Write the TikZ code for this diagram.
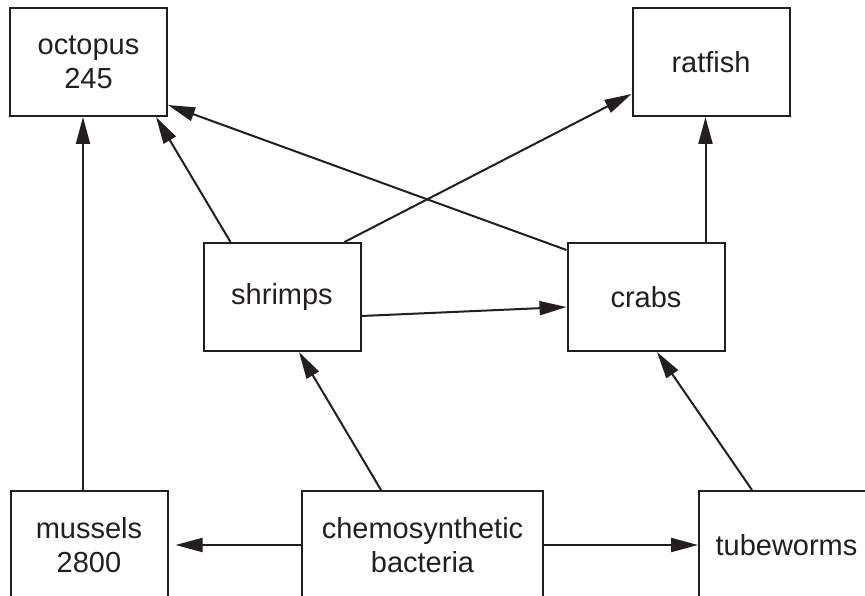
\documentclass[tikz,border=0pt]{standalone}
\usepackage{fontspec}
\setmainfont{Liberation Sans}
\usetikzlibrary{arrows.meta}
\definecolor{ink}{HTML}{231F20}
\begin{document}
\begin{tikzpicture}[x=1pt,y=-1pt,
  box/.style={draw=ink, line width=2pt, minimum width=157pt, minimum height=108pt,
    inner sep=0pt, align=center, text=ink, font=\fontsize{29}{34}\selectfont},
  link/.style={draw=ink, line width=2pt, -{Triangle[length=27pt,width=14pt]}}]
\useasboundingbox (0,0) rectangle (865,596);
\clip (0,0) rectangle (865,596);
\fill[white] (0,0) rectangle (865,596);
\node[box] (octopus) at (88.5,62) {octopus\\245};
\node[box] (ratfish) at (711,62) {ratfish};
\node[box] (shrimps) at (282,297) {shrimps};
\node[box] (crabs) at (646,297) {crabs};
\node[box] (mussels) at (89,545) {mussels\\2800};
\node[box, minimum width=241pt] (chemo) at (422.5,545) {chemosynthetic\\bacteria};
\node[box, minimum width=175pt] (tube) at (786.5,545) {tubeworms};
\draw[link] ([xshift=-6pt]mussels.north) -- ([xshift=-6pt]mussels.north |- octopus.south);
\draw[link] ([xshift=28pt]shrimps.north west) -- ([xshift=-12pt]octopus.south east);
\draw[link] ([yshift=-8pt]crabs.north west) -- ([yshift=12pt]octopus.south east);
\draw[link] ([xshift=-17pt]shrimps.north east) -- ([yshift=23pt]ratfish.south west);
\draw[link] ([xshift=-20pt]crabs.north east) -- ([xshift=-20pt]crabs.north east |- ratfish.south);
\draw[link] ([yshift=-19pt]shrimps.east) -- ([yshift=-10pt]crabs.west);
\draw[link] ([xshift=80pt]chemo.north west) -- ([xshift=17pt]shrimps.south);
\draw[link] ([xshift=54pt]tube.north west) -- ([xshift=11pt]crabs.south);
\draw[link, shorten >=7pt] (chemo.west) -- (mussels.east);
\draw[link] (chemo.east) -- (tube.west);
\end{tikzpicture}
\end{document}
